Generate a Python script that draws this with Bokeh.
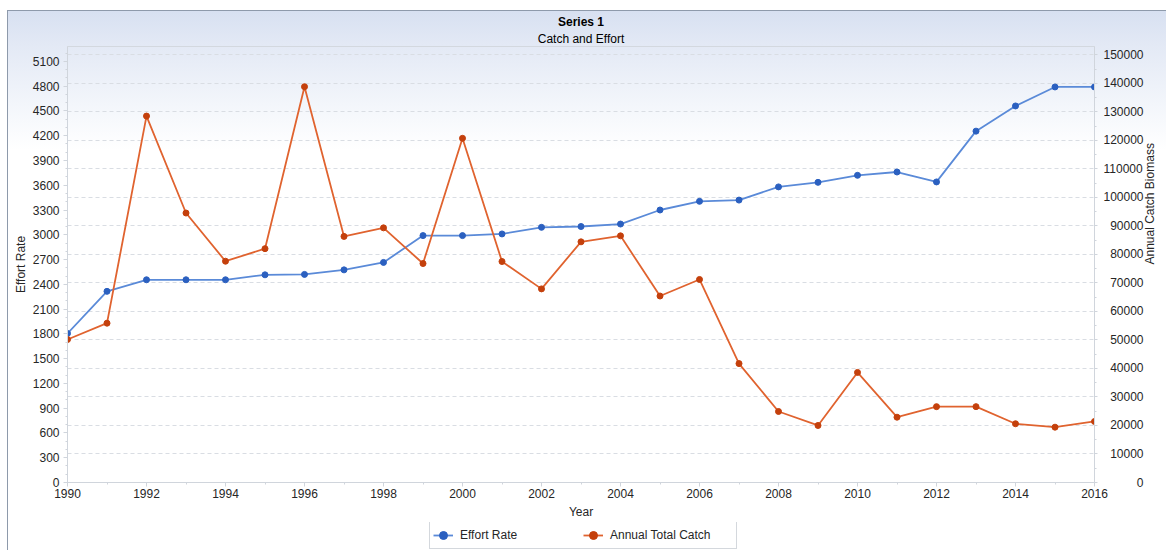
import math
from bokeh.plotting import figure
from bokeh.layouts import column
from bokeh.models import (LinearAxis, Range1d, SingleIntervalTicker, CustomJSTickFormatter,
                          Legend, LegendItem, Title, ColumnDataSource)
from bokeh.embed import file_html
from bokeh.resources import INLINE

years = list(range(1990, 2017))
effort_rate = [1805, 2315, 2455, 2455, 2455, 2515, 2520, 2575, 2665, 2990, 2990, 3010, 3090, 3100,
               3130, 3300, 3405, 3420, 3580, 3635, 3720, 3760, 3640, 4255, 4560, 4790, 4790]
annual_catch = [50150, 55870, 128500, 94500, 77600, 82000, 138800, 86300, 89300, 76800, 120700,
                77500, 67900, 84400, 86500, 65400, 71200, 41700, 24900, 20000, 38600, 22900,
                26600, 26600, 20600, 19400, 21400]
series_names = ["Effort Rate", "Annual Total Catch"]

FONT = "Liberation Sans"
TXT = "#262626"
BORDER = "#8e9aab"

src = ColumnDataSource(dict(year=years, effort=effort_rate, catch=annual_catch))

p = figure(width=1166, height=522, output_backend="svg", toolbar_location=None,
           x_range=Range1d(1990, 2016), y_range=Range1d(0, 5280),
           min_border_left=67, min_border_right=66, min_border_top=46, min_border_bottom=40)
p.extra_y_ranges = {"catch": Range1d(0, 152900)}

p.border_fill_alpha = 0
p.background_fill_alpha = 0
p.styles = {"background": (
    f"linear-gradient({BORDER},{BORDER}) 7px 10px / 1px 100% no-repeat, "
    f"linear-gradient({BORDER},{BORDER}) 7px 10px / 100% 1px no-repeat, "
    "linear-gradient(180deg, #d7e0f1 0px, #e3e9f5 35px, #f3f6fb 95px, #ffffff 140px) 7px 10px / 100% 100% no-repeat, "
    "#ffffff")}
p.outline_line_color = "#d3d8df"

# titles
p.title.text = "Series 1"
p.title.align = "center"
p.title.text_font = FONT
p.title.text_font_size = "12px"
p.title.text_font_style = "bold"
p.title.text_color = "#000000"
p.title.standoff = 1
t2 = Title(text="Catch and Effort", align="center", text_font=FONT, text_font_size="12px",
           text_font_style="normal", text_color="#000000", standoff=1)
p.add_layout(t2, "above")

# x axis
xa = p.below[0]
xa.ticker = SingleIntervalTicker(interval=2, num_minor_ticks=2)
xa.axis_label = "Year"

# left axis
la = p.left[0]
la.ticker = SingleIntervalTicker(interval=300, num_minor_ticks=3)
la.axis_label = "Effort Rate"

# right axis
ra = LinearAxis(y_range_name="catch", axis_label="Annual Catch Biomass",
                ticker=SingleIntervalTicker(interval=10000, num_minor_ticks=2))
ra.formatter = CustomJSTickFormatter(code="const s = tick.toFixed(0); return '\\u00a0'.repeat(2*(6-s.length)) + s;")
p.add_layout(ra, "right")
ra.axis_label_orientation = math.pi / 2

for ax in (xa, la, ra):
    ax.axis_line_color = "#d0d5dc"
    ax.major_tick_line_color = "#d0d5dc"
    ax.minor_tick_line_color = "#d0d5dc"
    ax.major_tick_out = 4
    ax.major_tick_in = 0
    ax.minor_tick_out = 2
    ax.minor_tick_in = 0
    ax.major_label_text_font = FONT
    ax.major_label_text_font_size = "12px"
    ax.major_label_text_color = TXT
    ax.axis_label_text_font = FONT
    ax.axis_label_text_font_size = "12px"
    ax.axis_label_text_font_style = "normal"
    ax.axis_label_text_color = TXT

xa.major_label_standoff = 2
xa.axis_label_standoff = 4
la.major_label_standoff = 4
la.axis_label_standoff = 2
ra.major_tick_out = 3
ra.major_label_standoff = 6
ra.axis_label_standoff = 3

# grid follows the right axis
p.xgrid.visible = False
p.ygrid.ticker = ra.ticker
p.ygrid.y_range_name = "catch"
p.ygrid.grid_line_color = "#d9dde3"
p.ygrid.grid_line_dash = "4 3"

BLUE_L, BLUE_M = "#5a8ad8", "#2b60c0"
RED_L, RED_M = "#e0632f", "#c4400c"

p.line("year", "effort", source=src, line_color=BLUE_L, line_width=1.8)
p.scatter("year", "effort", source=src, size=6, fill_color=BLUE_M, line_color=BLUE_M)
p.line("year", "catch", source=src, line_color=RED_L, line_width=1.8, y_range_name="catch")
p.scatter("year", "catch", source=src, size=6, fill_color=RED_M, line_color=RED_M,
          y_range_name="catch")

# legend strip below the chart (its frame is aligned with the main frame)
p2 = figure(width=1166, height=28, output_backend="svg", toolbar_location=None,
            x_range=Range1d(0, 1), y_range=Range1d(0, 1),
            x_axis_location=None, y_axis_location=None,
            min_border_left=0, min_border_right=0, min_border_top=0, min_border_bottom=0)
p2.grid.visible = False
p2.outline_line_color = None
p2.border_fill_alpha = 0
p2.background_fill_alpha = 0
p2.styles = {"background": f"linear-gradient({BORDER},{BORDER}) 7px 0 / 1px 100% no-repeat, #ffffff"}

off = dict(x=[-5], y=[-5])
e1 = p2.line(x="x", y="y", source=ColumnDataSource(off), line_color=BLUE_L, line_width=1.8)
e2 = p2.scatter(x="x", y="y", source=ColumnDataSource(off), size=6, fill_color=BLUE_M, line_color=BLUE_M)
c1 = p2.line(x="x", y="y", source=ColumnDataSource(off), line_color=RED_L, line_width=1.8)
c2 = p2.scatter(x="x", y="y", source=ColumnDataSource(off), size=6, fill_color=RED_M, line_color=RED_M)

legend = Legend(items=[LegendItem(label=series_names[0], renderers=[e1, e2]),
                       LegendItem(label=series_names[1], renderers=[c1, c2])],
                orientation="horizontal", location=(362, 1),
                glyph_width=20, glyph_height=20, label_standoff=7, label_width=123,
                spacing=0, padding=3, margin=0,
                label_text_font=FONT, label_text_font_size="12px", label_text_color=TXT,
                border_line_color="#a9b1bb", background_fill_color="#ffffff",
                background_fill_alpha=1)
p2.add_layout(legend)

layout = column(p, p2, spacing=0)
open("out.html", "w").write(file_html(layout, INLINE))
